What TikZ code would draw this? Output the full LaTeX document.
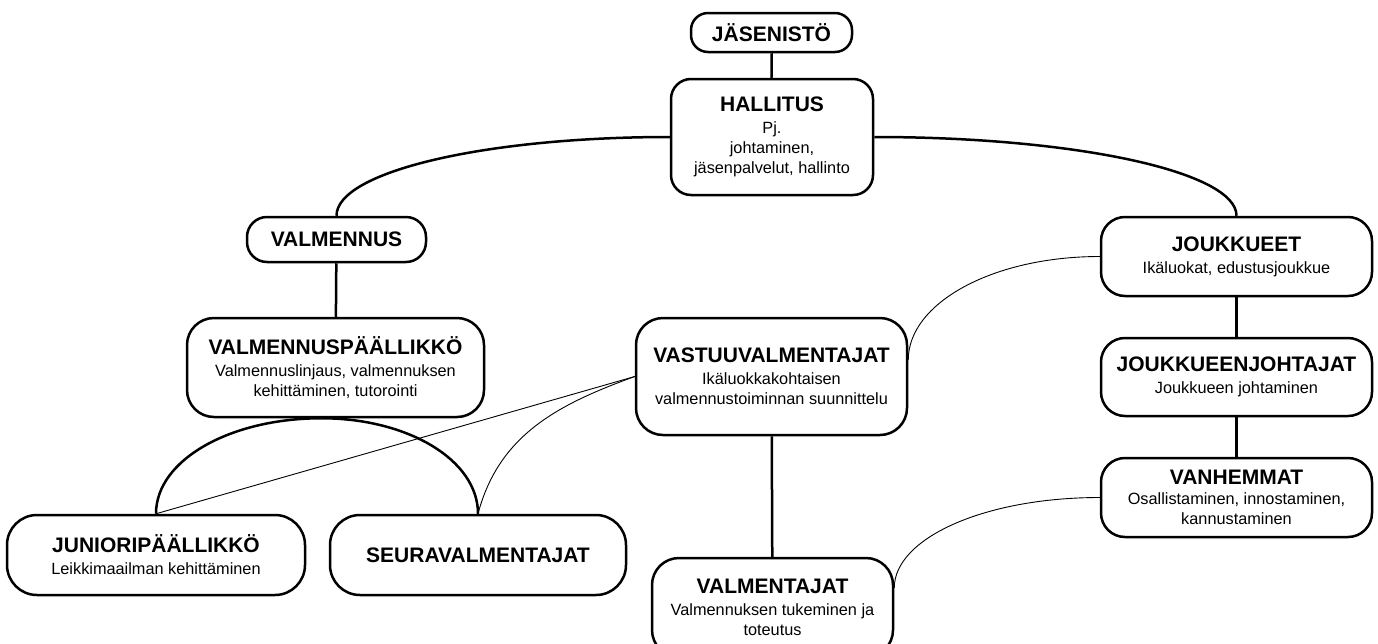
\documentclass[tikz,border=0pt]{standalone}
\usepackage{fontspec}
\setmainfont{Liberation Sans}
\newcommand{\boxtitle}[1]{{\fontsize{21}{24}\selectfont\bfseries #1}}
\newcommand{\subfont}{\fontsize{16.3}{20}\selectfont}
\tikzset{
	box/.style={draw, line width=2.5pt, rounded corners=24pt, align=center, inner sep=0pt, font=\subfont},
	link/.style={line width=2.5pt},
	thinlink/.style={line width=0.9pt}
}

\begin{document}
\begin{tikzpicture}[x=1pt, y=-1pt]
		%%%%% START %%%%%
		
		\path[fill=white, use as bounding box] (0, 0) rectangle (1378, 643);
		
		\node[box, rounded corners=17pt, minimum width=161pt, minimum height=39pt] (jasenisto) at (771.5, 32.5) {\boxtitle{JÄSENISTÖ}};
		\node[box, rounded corners=20pt, minimum width=202pt, minimum height=116pt] (hallitus) at (772, 137) {\boxtitle{HALLITUS}\\[2pt] Pj.\\ johtaminen,\\ jäsenpalvelut, hallinto};
		
		\node[box, rounded corners=20pt, minimum width=179pt, minimum height=45pt] (valmennus) at (336.5, 239.5) {\boxtitle{VALMENNUS}};
		\node[box, rounded corners=27pt, minimum width=297pt, minimum height=99pt] (vpl) at (335.5, 367.5) {\boxtitle{VALMENNUSPÄÄLLIKKÖ}\\[2pt] Valmennuslinjaus, valmennuksen\\ kehittäminen, tutorointi};
		\coordinate (vplfoot) at ([xshift=-14pt]vpl.south);
		
		\node[box, rounded corners=30pt, minimum width=298pt, minimum height=80pt] (junior) at (156, 555) {\boxtitle{JUNIORIPÄÄLLIKKÖ}\\[2pt] Leikkimaailman kehittäminen};
		\node[box, rounded corners=30pt, minimum width=296pt, minimum height=80pt] (seura) at (478, 555) {\boxtitle{SEURAVALMENTAJAT}};
		
		\node[box, rounded corners=27pt, minimum width=271pt, minimum height=117pt] (vastuu) at (771.5, 376.5) {\boxtitle{VASTUUVALMENTAJAT}\\[2pt] Ikäluokkakohtaisen\\ valmennustoiminnan suunnittelu};
		\node[box, rounded corners=27pt, minimum width=241pt, minimum height=99pt] (valmentajat) at (772.5, 607.5) {\boxtitle{VALMENTAJAT}\\[2pt] Valmennuksen tukeminen ja\\ toteutus};
		
		\node[box, minimum width=271pt, minimum height=79pt] (joukkueet) at (1236.5, 256.5) {\boxtitle{JOUKKUEET}\\[2pt] Ikäluokat, edustusjoukkue};
		\node[box, minimum width=271pt, minimum height=78pt] (jjohtajat) at (1236.5, 377) {\boxtitle{JOUKKUEENJOHTAJAT}\\[2pt] Joukkueen johtaminen};
		\node[box, minimum width=271pt, minimum height=79pt] (vanhemmat) at (1236.5, 497.5) {\boxtitle{VANHEMMAT}\\ Osallistaminen, innostaminen,\\ kannustaminen};
		
		% straight links
		\draw[link] (jasenisto) -- (hallitus);
		\draw[link] (valmennus) -- (vpl);
		\draw[link] (vastuu) -- (valmentajat);
		\draw[link] (joukkueet) -- (jjohtajat);
		\draw[link] (jjohtajat) -- (vanhemmat);
		
		% curved links
		\draw[link] (hallitus.west) .. controls +(-185, 0) and +(0, -44) .. (valmennus.north);
		\draw[link] (hallitus.east) .. controls +(201, 0) and +(0, -44) .. (joukkueet.north);
		\draw[link] (vplfoot) .. controls +(-91, 0) and +(0, -54) .. (junior.north);
		\draw[link] (vplfoot) .. controls +(86, 0) and +(0, -54) .. (seura.north);
		
		% thin links
		\draw[thinlink] (vastuu.west) -- (junior.north);
		\draw[thinlink] (seura.north) .. controls +(21, -79) and +(-77, 28) .. (vastuu.west);
		\draw[thinlink] ([yshift=16.5pt]vastuu.east) .. controls +(0, -57) and +(-107, 0) .. (joukkueet.west);
		\draw[thinlink] ([yshift=19.5pt]valmentajat.east) .. controls +(0, -50) and +(-115, 0) .. (vanhemmat.west);
		
		%%%%% END %%%%%
\end{tikzpicture}
\end{document}
